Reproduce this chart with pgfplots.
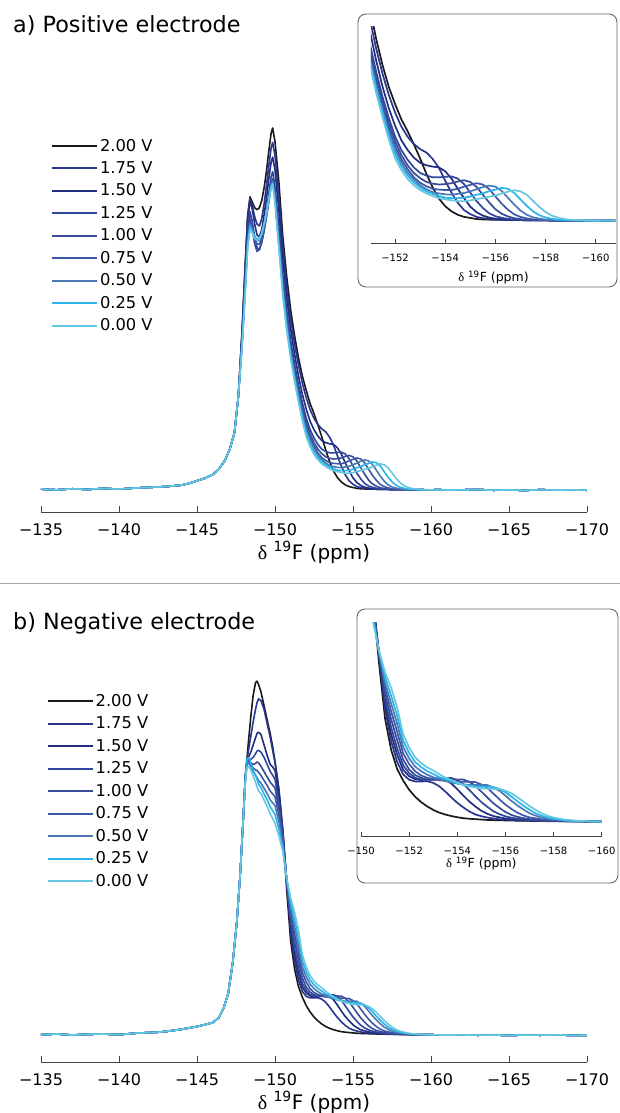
\documentclass[border=0pt]{standalone}
\usepackage{fontspec}
\setmainfont{DejaVu Sans}
\newfontfamily\serifd{Liberation Serif}
\usepackage{pgfplots}
\usepackage{pgfplotstable}
\pgfplotsset{compat=1.18}

\definecolor{c0}{HTML}{1A1A1A}
\definecolor{c1}{HTML}{2A3592}
\definecolor{c2}{HTML}{1F2E7E}
\definecolor{c3}{HTML}{2F479D}
\definecolor{c4}{HTML}{384B96}
\definecolor{c5}{HTML}{3D57A8}
\definecolor{c6}{HTML}{4A78B2}
\definecolor{c7}{HTML}{29B3E9}
\definecolor{c8}{HTML}{66C8E0}
\definecolor{axgray}{HTML}{444444}

\pgfplotstableread{
x y0 y1 y2 y3 y4 y5 y6 y7 y8
-135 0.5 0.5 0.5 0.5 0.5 0.5 0.5 0.5 0.5
-136 0.3 0.3 0.3 0.3 0.3 0.3 0.3 0.3 0.3
-137 0.6 0.6 0.6 0.6 0.6 0.6 0.6 0.6 0.6
-138 0.4 0.4 0.4 0.4 0.4 0.4 0.4 0.4 0.4
-139 0.7 0.7 0.7 0.7 0.7 0.7 0.7 0.7 0.7
-140 0.5 0.5 0.5 0.5 0.5 0.5 0.5 0.5 0.5
-141 0.8 0.8 0.8 0.8 0.8 0.8 0.8 0.8 0.8
-142 1.0 1.0 1.0 1.0 1.0 1.0 1.0 1.0 1.0
-142.5 1.1 1.1 1.1 1.1 1.1 1.1 1.1 1.1 1.1
-143 1.2 1.2 1.2 1.2 1.2 1.2 1.2 1.2 1.2
-143.5 1.4 1.4 1.4 1.4 1.4 1.4 1.4 1.4 1.4
-144 1.6 1.6 1.6 1.6 1.6 1.6 1.6 1.6 1.6
-144.5 2.1 2.1 2.1 2.1 2.1 2.1 2.1 2.1 2.1
-145 2.8 2.8 2.8 2.8 2.8 2.8 2.8 2.8 2.8
-145.5 3.5 3.5 3.5 3.5 3.5 3.5 3.5 3.5 3.5
-146 4.5 4.5 4.5 4.5 4.5 4.5 4.5 4.5 4.5
-146.4 6.0 6.0 6.0 6.0 6.0 6.0 6.0 6.0 6.0
-146.8 8.5 8.5 8.5 8.5 8.5 8.5 8.5 8.5 8.5
-147.1 11.5 11.5 11.5 11.5 11.5 11.5 11.5 11.5 11.5
-147.4 16 16 16 16 16 16 16 16 16
-147.65 26 26 26 26 26 26 26 26 26
-147.9 45 44.5 44 43 42 41.5 41 41 40.5
-148.1 63 62.5 62 60 58 57 56.5 56 55
-148.25 76 75.5 75 72 70 69 68.5 68 67
-148.4 81 80.5 80 77 75 74 73.5 73 72
-148.55 79.5 78.5 77.5 74 72 72 72 71.5 71
-148.7 78 75.5 73.5 70 68 69.5 70 70 69.5
-148.85 77.5 73.5 70.5 67 66 68 69 69.5 69
-149.0 78 73 70 66.5 66.5 68 69 69.5 69.5
-149.15 80 75 72 68.5 68.5 69.5 70.5 71 71
-149.3 83.5 79 76 72 71.5 72 73 73.5 73.5
-149.45 88 84 80.5 76.5 75.5 75.5 76.5 77 76.5
-149.6 93.5 89.5 86 82 80 79.5 80 80.5 80
-149.75 98.5 94.5 90.5 86.5 84.5 84 84 84 83.5
-149.85 100 96 92 88 86 85.5 85 85 84.5
-150.0 96.2 92.4 88.4 83.8 82.4 80.9 80.4 80.4 79.4
-150.25 85.0 81.3 77.3 72.7 71.0 69.3 68.4 67.9 66.6
-150.5 70.1 67.1 63.5 59.6 58.1 56.5 55.6 55.0 53.8
-150.75 59.1 56.4 53.2 49.8 48.3 46.9 46.0 45.4 44.2
-151.0 50.0 47.5 44.7 41.7 40.4 39.1 38.3 37.7 36.6
-151.25 42.9 40.6 37.8 35.2 34.0 32.7 31.9 31.2 30.2
-151.5 36.8 34.8 31.8 29.4 28.3 27.1 26.3 25.6 24.6
-151.75 31.7 29.8 26.7 24.4 23.2 22.1 21.2 20.4 19.4
-152.0 27.7 25.7 22.6 20.1 19.0 17.9 16.9 16.0 15.0
-152.25 24.1 22.4 19.2 16.9 15.7 14.7 13.9 13.1 12.2
-152.5 21.3 20.0 16.9 14.6 13.3 12.4 11.6 10.9 10.1
-152.75 18.2 18.3 15.1 12.8 11.5 10.5 9.9 9.3 8.6
-153.0 14.9 17.1 13.9 11.5 10.3 9.2 8.6 8.1 7.5
-153.25 11.3 16.3 13.3 10.9 9.4 8.4 7.7 7.2 6.7
-153.5 8.1 14.8 13.0 10.5 9.0 7.8 7.0 6.6 6.1
-153.75 5.5 12.7 12.8 10.5 8.8 7.6 6.7 6.1 5.6
-154.0 3.7 9.7 11.9 10.6 8.9 7.5 6.5 5.7 5.3
-154.25 2.5 6.9 10.2 10.7 9.1 7.5 6.4 5.6 5.1
-154.5 1.7 4.5 7.8 10.2 9.5 7.8 6.6 5.6 4.9
-154.75 1.2 2.8 5.6 8.9 9.8 8.3 6.8 5.7 4.9
-155.0 0.95 1.85 3.6 6.9 9.4 8.7 7.2 6.0 5.05
-155.25 0.7 1.2 2.3 4.9 8.25 9.1 7.7 6.4 5.4
-155.5 0.6 0.9 1.5 3.3 6.4 8.8 8.2 6.7 5.6
-155.75 0.55 0.75 1.05 2.05 4.6 7.75 8.55 7.25 5.95
-156.0 0.52 0.62 0.78 1.37 3.0 6.0 8.3 7.6 6.2
-156.25 0.5 0.5 0.66 1.0 1.95 4.3 7.3 8.0 6.7
-156.5 0.48 0.48 0.58 0.72 1.3 2.9 5.7 7.8 7.1
-156.75 0.46 0.46 0.46 0.6 0.9 1.8 4.1 6.85 7.45
-157.0 0.44 0.44 0.44 0.54 0.66 1.2 2.7 5.3 7.2
-157.25 0.42 0.42 0.42 0.42 0.55 0.85 1.7 3.8 6.4
-157.5 0.4 0.4 0.4 0.4 0.49 0.61 1.1 2.5 4.95
-157.75 0.39 0.39 0.39 0.39 0.39 0.52 0.79 1.6 3.55
-158.0 0.38 0.38 0.38 0.38 0.38 0.46 0.58 1.06 2.34
-158.25 0.37 0.37 0.37 0.37 0.37 0.4 0.49 0.75 1.5
-158.5 0.36 0.36 0.36 0.36 0.36 0.36 0.44 0.55 1.0
-158.75 0.35 0.35 0.35 0.35 0.35 0.35 0.37 0.46 0.7
-159.0 0.34 0.34 0.34 0.34 0.34 0.34 0.34 0.41 0.52
-159.5 0.32 0.32 0.32 0.32 0.32 0.32 0.32 0.32 0.39
-160 0.3 0.3 0.3 0.3 0.3 0.3 0.3 0.3 0.3
-160.5 0.35 0.35 0.35 0.35 0.35 0.35 0.35 0.35 0.35
-161 0.25 0.25 0.25 0.25 0.25 0.25 0.25 0.25 0.25
-162 0.3 0.3 0.3 0.3 0.3 0.3 0.3 0.3 0.3
-163 0.4 0.4 0.4 0.4 0.4 0.4 0.4 0.4 0.4
-164 0.2 0.2 0.2 0.2 0.2 0.2 0.2 0.2 0.2
-165 0.3 0.3 0.3 0.3 0.3 0.3 0.3 0.3 0.3
-166 0.15 0.15 0.15 0.15 0.15 0.15 0.15 0.15 0.15
-167 0.35 0.35 0.35 0.35 0.35 0.35 0.35 0.35 0.35
-168 0.25 0.25 0.25 0.25 0.25 0.25 0.25 0.25 0.25
-169 0.3 0.3 0.3 0.3 0.3 0.3 0.3 0.3 0.3
-170 0.2 0.2 0.2 0.2 0.2 0.2 0.2 0.2 0.2
}\dataA

\pgfplotstableread{
x y0 y1 y2 y3 y4 y5 y6 y7 y8
-135 0.4 0.4 0.4 0.4 0.4 0.4 0.4 0.4 0.4
-136 0.6 0.6 0.6 0.6 0.6 0.6 0.6 0.6 0.6
-137 0.3 0.3 0.3 0.3 0.3 0.3 0.3 0.3 0.3
-138 0.5 0.5 0.5 0.5 0.5 0.5 0.5 0.5 0.5
-139 0.6 0.6 0.6 0.6 0.6 0.6 0.6 0.6 0.6
-140 0.4 0.4 0.4 0.4 0.4 0.4 0.4 0.4 0.4
-141 0.8 0.8 0.8 0.8 0.8 0.8 0.8 0.8 0.8
-142 1.0 1.0 1.0 1.0 1.0 1.0 1.0 1.0 1.0
-142.5 1.1 1.1 1.1 1.1 1.1 1.1 1.1 1.1 1.1
-143 1.3 1.3 1.3 1.3 1.3 1.3 1.3 1.3 1.3
-143.5 1.6 1.6 1.6 1.6 1.6 1.6 1.6 1.6 1.6
-144 1.9 1.9 1.9 1.9 1.9 1.9 1.9 1.9 1.9
-144.5 2.3 2.3 2.3 2.3 2.3 2.3 2.3 2.3 2.3
-145 2.7 2.7 2.7 2.7 2.7 2.7 2.7 2.7 2.7
-145.5 3.2 3.2 3.2 3.2 3.2 3.2 3.2 3.2 3.2
-146 3.8 3.8 3.8 3.8 3.8 3.8 3.8 3.8 3.8
-146.4 5.2 5.2 5.2 5.2 5.2 5.2 5.2 5.2 5.2
-146.7 7.8 7.8 7.8 7.8 7.8 7.8 7.8 7.8 7.8
-147.0 12 12 12 12 12 12 12 12 12
-147.3 21 21 21 21 21 21 21 21 21
-147.55 32 32 32 32 32 32 32 32 32
-147.76 45 45 45 45 45 45 45 45 45
-147.95 60 60 60 60 60 60 60 60 60
-148.1 73 73 73 73 72.5 72.5 72 73 71.5
-148.2 78 77.5 77 76.5 77.5 77 76.5 78 75.5
-148.3 83 80.5 78.5 77.5 77.8 77.5 77 78.5 76
-148.45 90 84.5 80 78 77 76.5 76 77 75
-148.6 96 88.5 82 78.5 76.5 75.5 74.5 75 73.3
-148.75 99.5 92 84 79.5 76.8 75 73.5 73.5 71.5
-148.85 100 94 85.3 80.3 77.2 74.8 72.8 72.3 70.3
-148.95 99 95 85.6 80.5 77 74.3 72 71 69
-149.1 97 94.5 85 80 76 73.4 71.3 70 68.3
-149.3 93 92 82 78.5 74.5 72 69.8 68.2 66.5
-149.5 89 88 79 76.5 73 70.6 68.3 66.5 64.6
-149.7 85 84 76.5 74.5 71.5 69 66.5 64.5 62.5
-149.85 81.5 80.5 75.8 73.5 70.7 68.2 65.7 63.5 61.3
-150.0 77.4 77.05 74.85 72.35 69.9 67.45 64.95 62.45 60.0
-150.25 69.4 69.5 67.9 66.0 64.1 62.2 60.3 58.4 56.5
-150.5 57.35 58.3 57.6 56.7 55.75 54.8 53.9 52.9 52.0
-150.75 41.3 43.4 43.6 43.75 43.9 44.05 44.2 44.35 44.5
-151.0 27.0 29.5 30.85 32.2 33.55 34.9 36.25 37.7 39.0
-151.25 19.0 21.25 23.05 24.85 26.9 28.95 30.95 32.95 35.0
-151.5 14.0 15.85 17.7 19.35 21.5 23.65 25.75 27.85 30.0
-151.75 11.0 12.6 13.8 14.95 16.4 18.05 19.7 21.35 23.0
-152.0 8.6 11.2 12.1 12.9 13.85 15.25 16.7 18.1 19.5
-152.25 6.8 10.75 11.35 11.7 12.4 13.4 14.6 15.8 17.0
-152.5 5.4 10.75 11.1 11.3 11.7 12.3 13.4 14.45 15.5
-152.75 4.3 10.8 11.25 11.15 11.25 11.7 12.5 13.45 14.4
-153.0 3.4 10.4 11.5 11.2 11.2 11.45 11.85 12.7 13.6
-153.25 2.7 9.53 11.64 11.41 11.13 11.05 11.31 11.87 12.62
-153.5 2.2 8.16 11.18 11.56 11.1 10.9 10.88 11.3 11.77
-153.75 1.8 6.65 10.23 11.66 11.22 10.79 10.51 10.8 11.12
-154.0 1.5 5.24 8.75 11.08 11.29 10.64 10.19 10.26 10.45
-154.25 1.25 4.04 7.1 10.07 11.25 10.67 10.01 9.91 9.89
-154.5 1.1 3.0 5.56 8.56 10.66 10.65 9.83 9.66 9.48
-154.75 1.0 2.21 4.28 6.93 9.61 10.59 9.83 9.45 9.2
-155.0 0.9 1.76 3.16 5.42 8.13 9.98 9.83 9.37 8.92
-155.25 0.8 1.42 2.38 4.18 6.6 9.07 9.81 9.41 8.9
-155.5 0.75 1.17 1.8 3.04 5.1 7.61 9.19 9.28 8.82
-155.75 0.7 0.97 1.47 2.3 3.92 6.14 8.37 8.83 8.84
-156.0 0.67 0.87 1.19 1.74 2.84 4.77 7.06 7.94 8.36
-156.25 0.63 0.78 0.98 1.38 2.09 3.63 5.73 6.84 7.67
-156.5 0.6 0.7 0.87 1.11 1.59 2.67 4.55 5.61 6.68
-156.75 0.58 0.67 0.77 0.92 1.26 1.96 3.48 4.45 5.53
-157.0 0.55 0.62 0.69 0.8 1.02 1.45 2.53 3.44 4.39
-157.25 0.52 0.58 0.64 0.7 0.86 1.2 1.91 2.55 3.43
-157.5 0.5 0.55 0.59 0.63 0.77 0.95 1.39 1.88 2.53
-157.75 0.48 0.52 0.56 0.59 0.63 0.8 1.14 1.41 1.86
-158.0 0.46 0.5 0.53 0.57 0.6 0.72 0.93 1.11 1.41
-158.5 0.44 0.46 0.48 0.5 0.52 0.54 0.65 0.71 0.85
-159.0 0.42 0.43 0.44 0.45 0.46 0.47 0.48 0.5 0.58
-159.5 0.4 0.4 0.4 0.4 0.4 0.4 0.4 0.41 0.43
-160 0.38 0.38 0.38 0.38 0.38 0.38 0.38 0.38 0.38
-161 0.3 0.3 0.3 0.3 0.3 0.3 0.3 0.3 0.3
-162 0.35 0.35 0.35 0.35 0.35 0.35 0.35 0.35 0.35
-163 0.25 0.25 0.25 0.25 0.25 0.25 0.25 0.25 0.25
-164 0.3 0.3 0.3 0.3 0.3 0.3 0.3 0.3 0.3
-165 0.2 0.2 0.2 0.2 0.2 0.2 0.2 0.2 0.2
-166 0.3 0.3 0.3 0.3 0.3 0.3 0.3 0.3 0.3
-167 0.25 0.25 0.25 0.25 0.25 0.25 0.25 0.25 0.25
-168 0.35 0.35 0.35 0.35 0.35 0.35 0.35 0.35 0.35
-169 0.2 0.2 0.2 0.2 0.2 0.2 0.2 0.2 0.2
-170 0.25 0.25 0.25 0.25 0.25 0.25 0.25 0.25 0.25
}\dataB

\pgfplotsset{
  spec/.style={line width=1.6pt, line join=round, mark=none},
  ispec/.style={line width=1.7pt, line join=round, mark=none},
  mainax/.style={
    scale only axis, anchor=south west, width=546pt,
    x dir=reverse, xmin=-170, xmax=-135,
    axis x line*=bottom, axis y line=none, ytick=\empty,
    xtick={-135,-140,-145,-150,-155,-160,-165,-170},
    xticklabels={−135,−140,−145,−150,−155,−160,−165,−170},
    tick align=inside, major tick length=6pt,
    every tick/.style={axgray, line width=0.8pt},
    axis line style={axgray, line width=0.8pt},
    xticklabel style={font=\fontsize{16}{19}\selectfont, yshift=-8pt},
    xlabel={{\serifd δ} \textsuperscript{19}F (ppm)},
    legend cell align=left,
    legend style={anchor=north west, draw=none, fill=none,
      font=\fontsize{16.3}{19}\selectfont, row sep=4.9pt, inner sep=0pt},
    legend image code/.code={\draw[#1, line width=2pt] (0pt,0pt) -- (45pt,0pt);},
  },
  insetax/.style={
    scale only axis, anchor=south west,
    x dir=reverse,
    axis x line*=bottom, axis y line=none, ytick=\empty,
    tick align=inside, major tick length=4pt,
    every tick/.style={axgray, line width=0.7pt},
    axis line style={axgray, line width=0.7pt},
    xticklabel style={font=\fontsize{10}{12}\selectfont, yshift=-8pt},
    xlabel={{\serifd δ} \textsuperscript{19}F (ppm)},
  },
}

\begin{document}
\begin{tikzpicture}[x=1pt,y=1pt]
\path[use as bounding box] (0,0) rectangle (620,-1113);

% ---------------- panel a ----------------
\node[anchor=base west, inner sep=0pt, font=\fontsize{22.3}{26}\selectfont] at (13,-33) {a) Positive electrode};

\begin{axis}[mainax, at={(41pt,-512pt)}, height=392pt, ymin=-5.8, ymax=102.2,
  xlabel style={font=\fontsize{20}{23}\selectfont, yshift=1pt},
  legend style={at={(0.018,0.957)}}]
\addplot[spec, c0] table[x=x, y=y0] {\dataA}; \addlegendentry{2.00 V}
\addplot[spec, c1] table[x=x, y=y1] {\dataA}; \addlegendentry{1.75 V}
\addplot[spec, c2] table[x=x, y=y2] {\dataA}; \addlegendentry{1.50 V}
\addplot[spec, c3] table[x=x, y=y3] {\dataA}; \addlegendentry{1.25 V}
\addplot[spec, c4] table[x=x, y=y4] {\dataA}; \addlegendentry{1.00 V}
\addplot[spec, c5] table[x=x, y=y5] {\dataA}; \addlegendentry{0.75 V}
\addplot[spec, c6] table[x=x, y=y6] {\dataA}; \addlegendentry{0.50 V}
\addplot[spec, c7] table[x=x, y=y7] {\dataA}; \addlegendentry{0.25 V}
\addplot[spec, c8] table[x=x, y=y8] {\dataA}; \addlegendentry{0.00 V}
\end{axis}

\draw[fill=white, rounded corners=8pt, line width=0.9pt, draw=black!60] (358,-14) rectangle (617,-287);
\begin{axis}[insetax, at={(371pt,-243pt)}, width=245pt, height=217pt,
  xmin=-160.81, xmax=-151.04, ymin=-4.93, ymax=46,
  xtick={-152,-154,-156,-158,-160},
  xticklabels={−152,−154,−156,−158,−160},
  xlabel style={font=\fontsize{12.5}{14}\selectfont, yshift=-2pt}]
\addplot[ispec, c0] table[x=x, y=y0] {\dataA};
\addplot[ispec, c1] table[x=x, y=y1] {\dataA};
\addplot[ispec, c2] table[x=x, y=y2] {\dataA};
\addplot[ispec, c3] table[x=x, y=y3] {\dataA};
\addplot[ispec, c4] table[x=x, y=y4] {\dataA};
\addplot[ispec, c5] table[x=x, y=y5] {\dataA};
\addplot[ispec, c6] table[x=x, y=y6] {\dataA};
\addplot[ispec, c7] table[x=x, y=y7] {\dataA};
\addplot[ispec, c8] table[x=x, y=y8] {\dataA};
\end{axis}

\draw[black!35, line width=0.8pt] (0,-583) -- (620,-583);

% ---------------- panel b ----------------
\node[anchor=base west, inner sep=0pt, font=\fontsize{22.3}{26}\selectfont] at (13,-629) {b) Negative electrode};

\begin{axis}[mainax, at={(41pt,-1062pt)}, height=388pt, ymin=-7.3, ymax=102,
  xlabel style={font=\fontsize{20}{23}\selectfont, yshift=1pt},
  legend style={at={(0.01,0.953)}}]
\addplot[spec, c0] table[x=x, y=y0] {\dataB}; \addlegendentry{2.00 V}
\addplot[spec, c1] table[x=x, y=y1] {\dataB}; \addlegendentry{1.75 V}
\addplot[spec, c2] table[x=x, y=y2] {\dataB}; \addlegendentry{1.50 V}
\addplot[spec, c3] table[x=x, y=y3] {\dataB}; \addlegendentry{1.25 V}
\addplot[spec, c4] table[x=x, y=y4] {\dataB}; \addlegendentry{1.00 V}
\addplot[spec, c5] table[x=x, y=y5] {\dataB}; \addlegendentry{0.75 V}
\addplot[spec, c6] table[x=x, y=y6] {\dataB}; \addlegendentry{0.50 V}
\addplot[spec, c7] table[x=x, y=y7] {\dataB}; \addlegendentry{0.25 V}
\addplot[spec, c8] table[x=x, y=y8] {\dataB}; \addlegendentry{0.00 V}
\end{axis}

\draw[fill=white, rounded corners=8pt, line width=0.9pt, draw=black!60] (357,-609) rectangle (618,-883);
\begin{axis}[insetax, at={(361pt,-836pt)}, width=240.7pt, height=214pt,
  xmin=-160, xmax=-150, ymin=-3.36, ymax=52,
  xtick={-150,-152,-154,-156,-158,-160},
  xticklabels={−150,−152,−154,−156,−158,−160},
  xlabel style={font=\fontsize{12.5}{14}\selectfont, yshift=5pt}]
\addplot[ispec, c0] table[x=x, y=y0] {\dataB};
\addplot[ispec, c1] table[x=x, y=y1] {\dataB};
\addplot[ispec, c2] table[x=x, y=y2] {\dataB};
\addplot[ispec, c3] table[x=x, y=y3] {\dataB};
\addplot[ispec, c4] table[x=x, y=y4] {\dataB};
\addplot[ispec, c5] table[x=x, y=y5] {\dataB};
\addplot[ispec, c6] table[x=x, y=y6] {\dataB};
\addplot[ispec, c7] table[x=x, y=y7] {\dataB};
\addplot[ispec, c8] table[x=x, y=y8] {\dataB};
\end{axis}
\end{tikzpicture}
\end{document}
